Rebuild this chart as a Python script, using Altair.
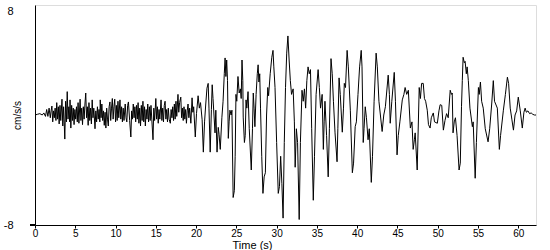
import altair as alt
import pandas as pd

times = [0, 0.3, 0.6, 0.9, 1.1, 1.3, 1.45, 1.6, 1.75, 1.9, 2.0,
         2.1, 2.2, 2.3, 2.4, 2.5, 2.6, 2.7, 2.8, 2.9, 3.0, 3.1, 3.2, 3.35, 3.45, 3.55, 3.7, 3.8, 3.9, 4.0,
         4.1, 4.2, 4.3, 4.35, 4.45, 4.55, 4.65, 4.75, 4.85, 4.95, 5.05, 5.15, 5.25, 5.35, 5.45, 5.6, 5.7, 5.8, 5.9,
         6.0, 6.1, 6.2, 6.3, 6.4, 6.5, 6.6, 6.7, 6.8, 6.9, 7.0, 7.1, 7.2, 7.3, 7.45, 7.55, 7.65, 7.75, 7.85, 7.95,
         8.05, 8.1, 8.2, 8.3, 8.4, 8.5, 8.6, 8.7, 8.8, 8.9, 9.0, 9.1, 9.2, 9.3, 9.4, 9.5, 9.6, 9.7, 9.8, 9.9,
         10.0, 10.1, 10.2, 10.3, 10.4, 10.55, 10.65, 10.75, 10.85, 10.95, 11.05, 11.2, 11.3, 11.4, 11.5, 11.6,
         11.75, 11.9, 12.0, 12.1, 12.2, 12.3, 12.4, 12.5, 12.6, 12.7, 12.8, 12.9, 13.0, 13.1, 13.2, 13.3, 13.4,
         13.5, 13.6, 13.7, 13.8, 13.9, 14.0, 14.1, 14.2, 14.3, 14.4, 14.5, 14.65, 14.75, 14.85, 15.0, 15.1, 15.2,
         15.3, 15.4, 15.5, 15.65, 15.75, 15.85, 15.95, 16.05, 16.15, 16.25, 16.35, 16.45, 16.55, 16.65, 16.8,
         16.9, 17.0, 17.1, 17.2, 17.3, 17.4, 17.5, 17.6, 17.75, 17.85, 17.95, 18.1, 18.2, 18.3, 18.4, 18.5, 18.6,
         18.7, 18.8, 18.9, 19.0, 19.1, 19.2, 19.35, 19.5, 19.6, 19.7, 19.9, 20.05, 20.25, 20.4, 20.55, 20.75,
         20.9, 21.05, 21.2, 21.35, 21.5, 21.6, 21.75, 21.9, 22.0, 22.1, 22.35, 22.45, 22.6, 22.75, 22.85, 23.0,
         23.2, 23.35, 23.5, 23.6, 23.7, 23.8, 23.9, 24.0, 24.1, 24.2, 24.35, 24.45, 24.6, 24.75, 24.85, 24.95,
         25.05, 25.2, 25.35, 25.5, 25.6, 25.7, 25.8, 25.85, 26.0, 26.1, 26.2, 26.3, 26.45, 26.6, 26.85, 27.0,
         27.1, 27.2, 27.3, 27.45, 27.6, 27.7, 27.8, 27.9, 28.0, 28.15, 28.3, 28.45, 28.6, 28.75, 28.9, 29.0,
         29.2, 29.4, 29.55, 29.65, 29.8, 30.0, 30.2, 30.35, 30.5, 30.65, 30.8, 30.95, 31.1, 31.25, 31.4, 31.55,
         31.7, 31.85, 32.05, 32.2, 32.3, 32.45, 32.6, 32.8, 32.95, 33.15, 33.3, 33.45, 33.6, 33.75, 33.9, 34.05,
         34.2, 34.35, 34.55, 34.7, 34.9, 35.15, 35.3, 35.45, 35.65, 35.8, 35.9, 36.0, 36.2, 36.4, 36.55, 36.75,
         36.9, 37.05, 37.25, 37.5, 37.6, 37.75, 37.9, 38.15, 38.3, 38.4, 38.55, 38.75, 38.9, 39.15, 39.4, 39.55,
         39.75, 39.9, 40.1, 40.3, 40.5, 40.6, 40.75, 40.85, 41.0, 41.15, 41.35, 41.5, 41.75, 41.9, 42.1, 42.35,
         42.5, 42.7, 43.1, 43.3, 43.5, 43.85, 44.0, 44.1, 44.3, 44.6, 44.75, 44.95, 45.1, 45.3, 45.6, 45.8,
         45.95, 46.15, 46.35, 46.6, 46.8, 46.95, 47.1, 47.2, 47.45, 47.7, 47.85, 48.0, 48.2, 48.35, 48.5, 48.7,
         48.85, 49.05, 49.2, 49.45, 49.6, 49.95, 50.15, 50.3, 50.5, 50.7, 50.9, 51.1, 51.3, 51.55, 51.7, 51.8,
         51.9, 52.05, 52.2, 52.4, 52.65, 52.8, 52.95, 53.05, 53.15, 53.3, 53.4, 53.55, 53.65, 53.8, 54.0, 54.3,
         54.4, 54.65, 54.8, 55.05, 55.15, 55.3, 55.45, 55.65, 55.9, 56.25, 56.45, 56.7, 56.9, 57.05, 57.4,
         57.65, 57.8, 58.15, 58.4, 58.65, 58.8, 59.0, 59.2, 59.4, 59.6, 59.8, 60.0, 60.25, 60.5, 60.7, 60.85,
         61.0, 61.2, 61.4, 61.6, 61.8, 62.0, 62.2]

accel = [0, 0.05, 0.1, 0.0, 0.15, -0.1, 0.4, -0.1, 0.5, -0.2, 0.3,
         0.65, -0.5, 0.3, -0.2, 0.5, -0.4, 0.9, -0.3, 0.6, -0.65, 0.7, -0.4, 1.15, -0.8, 0.6, -1.75, 1.0, -0.5, 1.7,
         -0.3, 0.6, -0.5, 1.1, -0.95, 0.7, -0.4, 0.5, -0.7, 0.4, -0.3, 0.6, -0.5, 0.9, -0.6, 1.15, -0.4, 0.5, -0.7,
         0.6, -0.3, 0.8, 1.6, -0.2, 0.6, -0.75, 0.9, -0.4, 0.5, -0.65, 1.1, -0.2, 0.5, -1.0, 0.3, -0.5, 0.6, -0.3, 0.4,
         -0.5, 1.1, -0.2, 0.8, -0.4, 0.3, -0.75, 0.2, -0.95, 0.5, -0.3, -0.8, 0.6, 0.95, -0.4, 0.5, 1.2, -0.3, 0.6, 1.15,
         -0.5, 0.7, -0.4, 1.0, -0.2, 1.1, -0.3, 0.6, -0.5, 0.5, -0.4, 0.8, -0.2, -0.5, 0.7, 0.95,
         -0.4, -1.6, 0.3, -0.3, 0.8, -0.2, 0.6, -0.5, 0.7, -0.3, 0.9, -0.6, 0.5, -0.8, 0.7, -0.4, 1.0,
         -0.5, 0.6, -0.8, 0.4, -0.3, 0.8, -0.5, 0.6, -0.4, 0.7, -0.3, -1.8, 0.5, -0.4, 1.2, -0.3, 0.6,
         -0.6, 0.4, -0.3, 1.1, -0.4, 0.5, -0.5, 0.7, 1.0, -0.3, 0.4, -0.5, 0.5, -0.3, -0.6,
         0.4, -0.2, 0.6, -0.4, 0.8, -0.3, 1.0, -0.1, 1.5, 0.2, 0.9, 1.3, -0.2, 0.5, -0.4, 0.6, -0.3,
         0.4, -0.6, 0.3, 0.8, -0.2, 0.5, -0.6, 1.25, 0.2, 0.6, -1.6, 0.1, 1.4, 0.5, 0.9, -0.35,
         -2.7, -0.5, 0.8, 1.95, 2.3, 0.5, -2.7, 0.4, 2.2, 1.2, -1.3, 0.35, -2.7, -0.9, -1.4, -2.5,
         -0.2, 1.0, 3.0, 4.15, 2.8, 4.0, 2.5, -1.7, -0.5, 0.35, 0.0, 0.35, -6.0, -5.5, -3.0, 1.5,
         1.0, 2.8, 1.6, 1.9, 1.2, 4.0, 2.5, -0.15, -2.0, -1.5, 1.1, 0.5, 1.7, -1.0, -4.0, -1.0,
         1.6, 0.5, -0.85, 1.5, 3.0, 3.65, 2.4, 3.0, 0.5, -3.0, -5.7, -4.5, -4.2, 0.0, 2.0, 1.4,
         3.0, 4.2, 4.7, 3.5, 2.0, -2.0, -5.7, -5.2, -3.0, -5.0, -7.5, -2.0, 2.0, 4.5, 5.75, 4.0,
         2.5, 1.5, 1.9, -0.5, -3.8, -1.0, -2.0, -7.6, -2.0, 1.8, 1.0, 1.9, 0.5, 2.5, 3.5, 3.0,
         3.3, -1.0, -6.2, -3.0, 1.5, 3.3, 2.0, 0.5, 1.5, -2.5, -0.5, 1.0, -1.5, -4.5, -1.0, 4.1,
         3.0, 1.0, -1.3, -3.4, -1.0, 2.7, 1.5, -1.25, 0.5, 2.3, 2.0, 4.7, 3.5, 0.35, -4.2, -3.5,
         -0.85, -0.5, 1.5, 3.5, 4.7, 3.5, -2.0, -1.0, 0.6, -0.2, -1.8, -1.0, -4.9, -3.0, 1.0, 4.5,
         3.5, 1.0, -1.2, 0.0, 0.6, 2.9, 1.5, -0.6, 1.0, 3.1, 1.0, -2.9, -1.5, -0.5, 1.1, 1.5,
         2.0, 1.5, 1.8, -0.95, -0.5, -2.5, -1.8, -1.3, -4.0, 2.0, 1.2, 2.3, 2.3, 1.2, 1.0, 0.35,
         -0.7, -0.95, -0.2, 0.15, -0.5, -0.6, 0.3, 0.75, 0.7, -1.1, -0.4, 0.1, -0.2, 1.8, 1.5, 1.6,
         -1.3, -0.5, -0.2, -1.5, -4.0, -3.5, 0.6, 2.5, 4.2, 3.8, 3.9, 3.0, 3.5, 2.5, 0.5, -0.85,
         -0.5, -4.6, -2.0, 2.0, 1.5, 2.4, 1.0, 0.5, -1.0, -1.95, -1.0, 0.8, 2.5, 1.0, 0.5,
         -2.5, -1.5, 0.35, 1.5, 2.75, 2.3, 0.5, -0.3, -1.1, 0.0, 0.3, 1.3, 0.3, -0.95, 0.2, 0.5,
         0.2, 0.3, 0.1, 0.15, 0.05, 0.0, 0.0]

x_ticks = [0, 5, 10, 15, 20, 25, 30, 35, 40, 45, 50, 55, 60]
y_ticks = [-8, 8]

df = pd.DataFrame({"t": times, "a": accel})

W, H = 501, 220
FONT = "Liberation Sans"

line = alt.Chart(df).mark_line(color="black", strokeWidth=1, interpolate="linear", clip=True).encode(
    x=alt.X("t:Q",
            scale=alt.Scale(domain=[0, 62.2], nice=False, zero=False),
            axis=alt.Axis(values=x_ticks, title="Time (s)", grid=False, domainColor="black",
                          tickColor="black", tickSize=3, labelPadding=0, labelFontSize=10,
                          labelFont=FONT, labelColor="black", titleFont=FONT, titleFontSize=11,
                          titleFontWeight="normal", titleColor="black", titleX=217, titleY=20,
                          titleBaseline="middle", labelFlush=False)),
    y=alt.Y("a:Q",
            scale=alt.Scale(domain=[-8, 8], nice=False),
            axis=alt.Axis(values=y_ticks, title="cm/s/s", grid=False, ticks=False, domainColor="black",
                          labelPadding=22, labelFontSize=11, labelFont=FONT, labelColor="black",
                          labelFlush=False,
                          labelExpr="datum.value < 0 ? '-' + abs(datum.value) : '' + datum.value",
                          labelBaseline={"condition": {"test": "datum.value > 0", "value": "top"},
                                         "value": "middle"},
                          titleFont=FONT, titleFontSize=10, titleFontWeight="normal",
                          titleColor="black", titleX=-18, titleY=110, titleAlign="center",
                          titleBaseline="middle", titleAngle=-90)),
)

base_ext = alt.Chart(df).mark_rule(color="black", strokeWidth=1).encode(
    x=alt.value(-5), x2=alt.value(0), y=alt.value(H)
)

chart = alt.layer(line, base_ext).properties(
    width=W, height=H,
    autosize=alt.AutoSizeParams(type="none"),
    padding={"left": 35, "top": 5, "right": 14, "bottom": 25},
).configure_view(stroke=None).configure(background="white")

chart.save("out.html", embed_options={"renderer": "svg", "actions": False})
